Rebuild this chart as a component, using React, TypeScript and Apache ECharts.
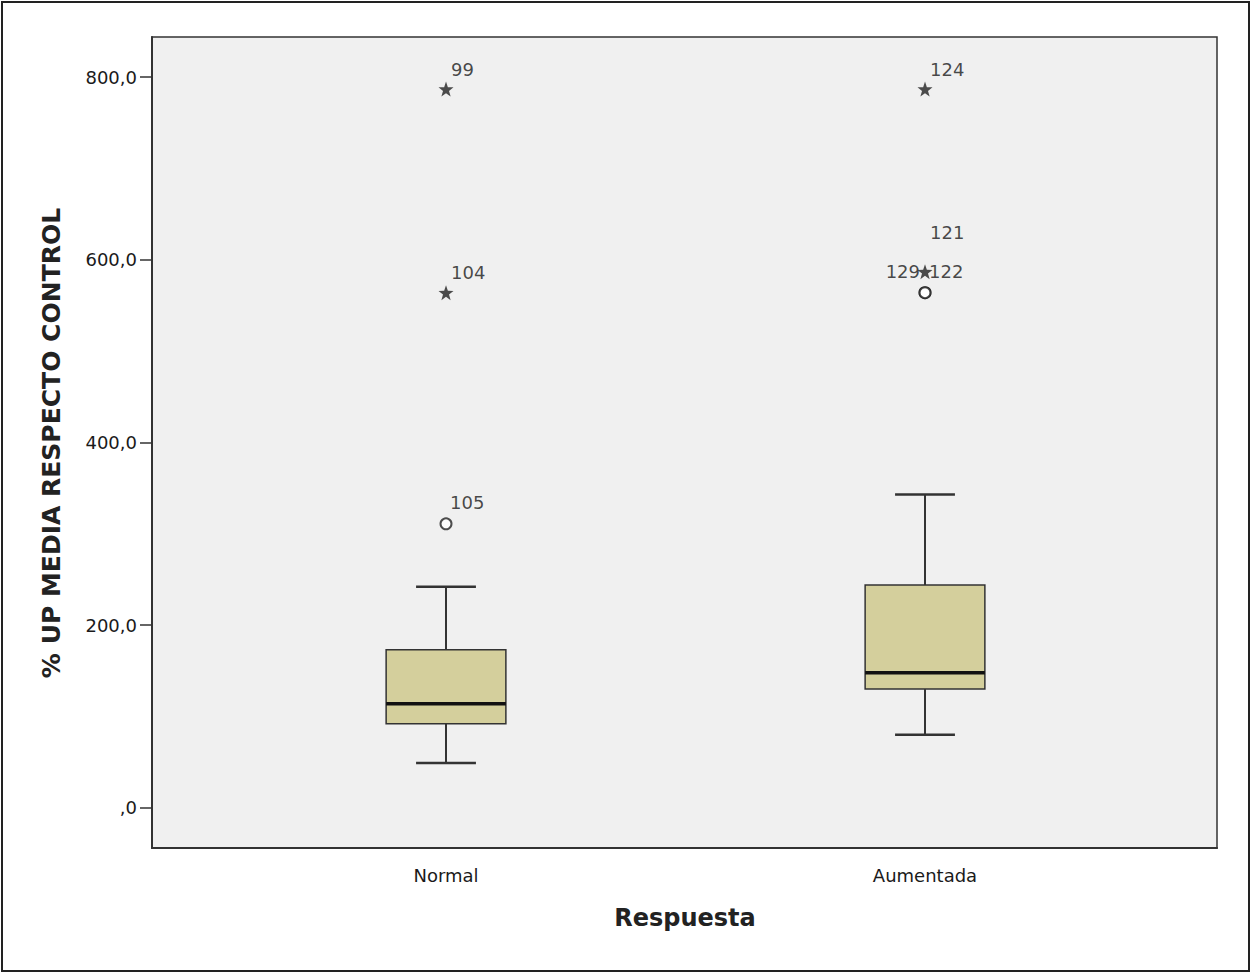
import React, { useEffect, useRef } from "react";
import * as echarts from "echarts";

const categories = ["Normal", "Aumentada"];
// [categoryIndex, lowerWhisker, Q1, median, Q3, upperWhisker]
const boxes = [
  [0, 49, 92, 114, 173, 242],
  [1, 80, 130, 148, 244, 343],
];
// extreme outliers (stars): [categoryIndex, value, label]
const extremes: [number, number, string][] = [
  [0, 787, "99"],
  [0, 564, "104"],
  [1, 787, "124"],
  [1, 587, "121"],
];
// outliers (circles)
const outliers: [number, number, string][] = [
  [0, 311, "105"],
  [1, 564, "122"],
  [1, 564, "129"],
];
const yTicks = [0, 200, 400, 600, 800];

const STAR =
  "path://M0,-10 L2.35,-3.24 9.51,-3.09 3.8,1.24 5.88,8.09 0,4 -5.88,8.09 -3.8,1.24 -9.51,-3.09 -2.35,-3.24Z";

const fmt = (v: number) => (v === 0 ? ",0" : v.toFixed(1).replace(".", ","));

export default function App() {
  const ref = useRef<HTMLDivElement>(null);
  useEffect(() => {
    document.body.style.margin = "0";
    const chart = echarts.init(ref.current!, null, { renderer: "svg" });
    const font = "'DejaVu Sans', sans-serif";
    const labelBase = {
      show: true,
      fontFamily: font,
      fontSize: 18,
      color: "#1a1a1a",
    };
    chart.setOption({
      animation: false,
      backgroundColor: "#ffffff",
      grid: {
        left: 152,
        right: 35,
        top: 37,
        bottom: 127,
        show: true,
        backgroundColor: "#f0f0f0",
        borderColor: "#333",
        borderWidth: 1.5,
      },
      xAxis: {
        type: "value",
        min: -0.6138,
        max: 1.6096,
        splitLine: { show: false },
        axisTick: { show: false },
        axisLine: { show: true, onZero: false, lineStyle: { color: "#333", width: 2 } },
        axisLabel: {
          customValues: [0, 1],
          formatter: (v: number) => categories[Math.round(v)] ?? "",
          fontFamily: font,
          fontSize: 18,
          color: "#1a1a1a",
          margin: 18,
        },
      },
      yAxis: {
        type: "value",
        min: -44,
        max: 844,
        splitLine: { show: false },
        axisLine: { show: true, onZero: false, lineStyle: { color: "#333", width: 2 } },
        axisTick: {
          show: true,
          customValues: yTicks,
          length: 12,
          lineStyle: { color: "#333", width: 1.5 },
        },
        axisLabel: {
          customValues: yTicks,
          formatter: (v: number) => fmt(v),
          fontFamily: font,
          fontSize: 18,
          color: "#1a1a1a",
          margin: 15,
        },
      },
      graphic: [
        {
          type: "rect",
          shape: { x: 2, y: 2, width: 1247, height: 969 },
          style: { fill: "none", stroke: "#222", lineWidth: 2 },
          silent: true,
        },
        {
          type: "text",
          x: 51,
          y: 443,
          rotation: Math.PI / 2,
          style: {
            text: "% UP MEDIA RESPECTO CONTROL",
            fontFamily: font,
            fontSize: 25,
            fontWeight: "bold",
            fill: "#222",
            align: "center",
            verticalAlign: "middle",
          },
        },
        {
          type: "text",
          x: 685,
          y: 918,
          style: {
            text: "Respuesta",
            fontFamily: font,
            fontSize: 24,
            fontWeight: "bold",
            fill: "#222",
            align: "center",
            verticalAlign: "middle",
          },
        },
      ],
      series: [
        {
          type: "custom",
          data: boxes,
          encode: { x: 0, y: [1, 2, 3, 4, 5] },
          renderItem: (params: any, api: any) => {
            const x = api.value(0);
            const lo = api.coord([x, api.value(1)]);
            const q1 = api.coord([x, api.value(2)]);
            const med = api.coord([x, api.value(3)]);
            const q3 = api.coord([x, api.value(4)]);
            const hi = api.coord([x, api.value(5)]);
            const w = api.size([0.25, 0])[0];
            const cw = w / 2;
            const cx = lo[0];
            const stroke = { stroke: "#333", lineWidth: 2 };
            return {
              type: "group",
              children: [
                { type: "line", shape: { x1: cx, y1: hi[1], x2: cx, y2: q3[1] }, style: stroke },
                { type: "line", shape: { x1: cx, y1: lo[1], x2: cx, y2: q1[1] }, style: stroke },
                { type: "line", shape: { x1: cx - cw / 2, y1: hi[1], x2: cx + cw / 2, y2: hi[1] }, style: { stroke: "#333", lineWidth: 2.5 } },
                { type: "line", shape: { x1: cx - cw / 2, y1: lo[1], x2: cx + cw / 2, y2: lo[1] }, style: { stroke: "#333", lineWidth: 2.5 } },
                {
                  type: "rect",
                  shape: { x: cx - w / 2, y: q3[1], width: w, height: q1[1] - q3[1] },
                  style: { fill: "#d4cf9c", stroke: "#333", lineWidth: 1.5 },
                },
                { type: "line", shape: { x1: cx - w / 2, y1: med[1], x2: cx + w / 2, y2: med[1] }, style: { stroke: "#111", lineWidth: 3.5 } },
              ],
            };
          },
          z: 2,
        },
        {
          type: "scatter",
          symbol: STAR,
          symbolSize: 15,
          itemStyle: { color: "#222" },
          data: extremes.map(([c, v, l]) => ({
            value: [c, v],
            label: {
              ...labelBase,
              formatter: l,
              position: "inside",
              align: "left",
              verticalAlign: "middle",
              offset: l === "121" ? [5, -39] : [5, -20],
            },
          })),
          z: 4,
        },
        {
          type: "scatter",
          symbol: "emptyCircle",
          symbolSize: 11,
          itemStyle: { color: "#222", borderColor: "#222", borderWidth: 2.4 },
          data: outliers.map(([c, v, l]) => ({
            value: [c, v],
            label: {
              ...labelBase,
              formatter: l,
              position: "inside",
              align: l === "129" ? "right" : "left",
              verticalAlign: "middle",
              offset: l === "129" ? [-5, -21] : [4, -21],
            },
          })),
          z: 3,
        },
      ],
    });
    return () => chart.dispose();
  }, []);
  return <div ref={ref} style={{ width: 1252, height: 975 }} />;
}
